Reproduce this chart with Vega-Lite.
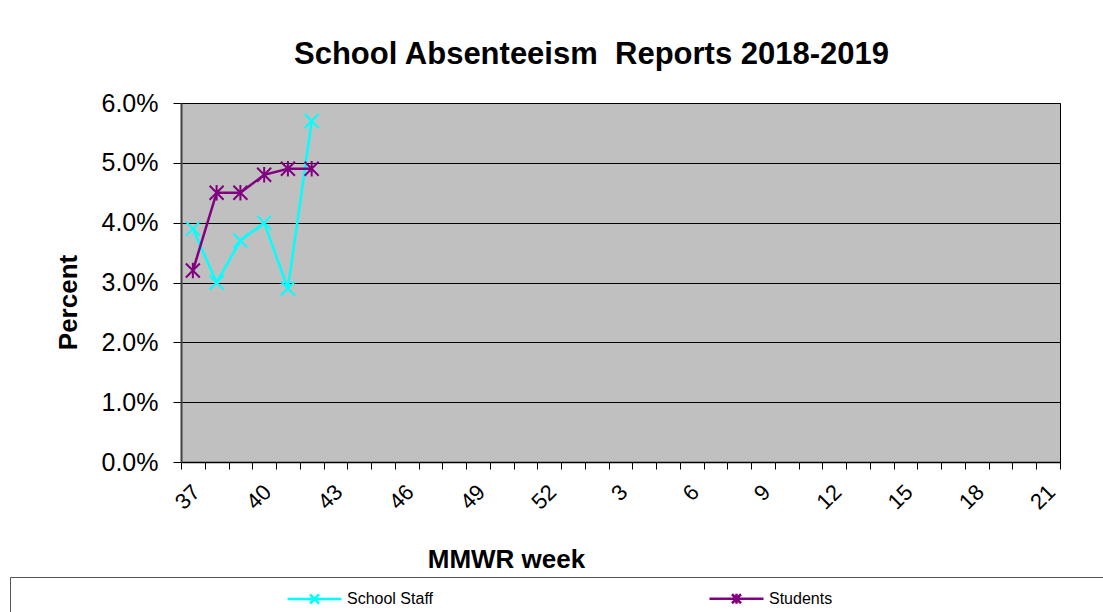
{
  "$schema": "https://vega.github.io/schema/vega-lite/v6.json",
  "width": 879,
  "height": 359,
  "autosize": {"type": "none"},
  "padding": {"left": 181, "top": 103, "right": 43, "bottom": 150},
  "background": "white",
  "title": {
    "text": "School Absenteeism\u00a0 Reports 2018-2019",
    "font": "Liberation Sans",
    "fontSize": 31,
    "fontWeight": "bold",
    "color": "black",
    "anchor": "middle",
    "dx": -29,
    "offset": 20
  },
  "data": {
    "values": [
      {"week": "37", "series": "School Staff", "percent": 0.039},
      {"week": "38", "series": "School Staff", "percent": 0.030},
      {"week": "39", "series": "School Staff", "percent": 0.037},
      {"week": "40", "series": "School Staff", "percent": 0.040},
      {"week": "41", "series": "School Staff", "percent": 0.029},
      {"week": "42", "series": "School Staff", "percent": 0.057},
      {"week": "37", "series": "Students", "percent": 0.032},
      {"week": "38", "series": "Students", "percent": 0.045},
      {"week": "39", "series": "Students", "percent": 0.045},
      {"week": "40", "series": "Students", "percent": 0.048},
      {"week": "41", "series": "Students", "percent": 0.049},
      {"week": "42", "series": "Students", "percent": 0.049}
    ]
  },
  "encoding": {
    "x": {
      "field": "week",
      "type": "ordinal",
      "scale": {
        "type": "band",
        "paddingInner": 0,
        "paddingOuter": 0,
        "domain": ["37","38","39","40","41","42","43","44","45","46","47","48","49","50","51","52","1","2","3","4","5","6","7","8","9","10","11","12","13","14","15","16","17","18","19","20","21"]
      },
      "axis": {
        "title": "MMWR week",
        "titleFont": "Liberation Sans",
        "titleFontSize": 26,
        "titleFontWeight": "bold",
        "titleColor": "black",
        "titleX": 325,
        "titleY": 97,
        "titleAlign": "center",
        "titleBaseline": "middle",
        "labelAngle": -45,
        "labelAlign": "right",
        "labelBaseline": "top",
        "labelFont": "Liberation Sans",
        "labelFontSize": 22,
        "labelColor": "black",
        "labelPadding": 12,
        "labelOffset": -4,
        "labelOverlap": false,
        "labelBound": false,
        "labelExpr": "indexof(['37','40','43','46','49','52','3','6','9','12','15','18','21'], datum.value) >= 0 ? datum.value : ''",
        "tickBand": "extent",
        "tickSize": 7,
        "tickColor": "black",
        "tickWidth": 1,
        "domainColor": "black",
        "domainWidth": 1.5,
        "grid": false
      }
    },
    "y": {
      "field": "percent",
      "type": "quantitative",
      "scale": {"domain": [0, 0.06], "nice": false},
      "axis": {
        "title": "Percent",
        "titleFont": "Liberation Sans",
        "titleFontSize": 26,
        "titleFontWeight": "bold",
        "titleColor": "black",
        "titleX": -113,
        "titleY": 199,
        "titleAngle": -90,
        "titleAlign": "center",
        "titleBaseline": "middle",
        "values": [0, 0.01, 0.02, 0.03, 0.04, 0.05, 0.06],
        "format": ".1%",
        "labelFont": "Liberation Sans",
        "labelFontSize": 25,
        "labelColor": "black",
        "labelPadding": 15,
        "tickSize": 8,
        "tickColor": "black",
        "domainColor": "#404040",
        "domainWidth": 2,
        "grid": true,
        "gridColor": "black",
        "gridWidth": 1,
        "gridOpacity": 1
      }
    },
    "color": {
      "field": "series",
      "type": "nominal",
      "scale": {"domain": ["School Staff", "Students"], "range": ["#00FFFF", "#800080"]},
      "legend": {
        "title": " ",
        "titleOrient": "right",
        "titlePadding": 270,
        "orient": "none",
        "legendX": -171,
        "legendY": 474,
        "direction": "horizontal",
        "columns": 2,
        "columnPadding": 9,
        "padding": 10,
        "strokeColor": "#555555",
        "labelFont": "Liberation Sans",
        "labelFontSize": 16,
        "labelColor": "black",
        "labelOffset": 21,
        "symbolOffset": 283,
        "symbolSize": 400,
        "symbolStrokeWidth": 2.5,
        "symbolFillColor": "transparent",
        "symbolType": "M-2.7,0L2.7,0M-0.45,-0.45L0.45,0.45M-0.45,0.45L0.45,-0.45",
        "encode": {
          "symbols": {
            "update": {
              "shape": {"signal": "datum.value === 'Students' ? 'M-2.7,0L2.7,0M-0.45,-0.45L0.45,0.45M-0.45,0.45L0.45,-0.45M0,-0.5L0,0.5' : 'M-2.7,0L2.7,0M-0.45,-0.45L0.45,0.45M-0.45,0.45L0.45,-0.45'"}
            }
          }
        }
      }
    }
  },
  "layer": [
    {"mark": {"type": "line", "strokeWidth": 2.5}},
    {
      "transform": [{"filter": "datum.series === 'School Staff'"}],
      "mark": {"type": "point", "filled": false, "strokeWidth": 2, "size": 196, "opacity": 1, "shape": "M-1,-1L1,1M-1,1L1,-1"}
    },
    {
      "transform": [{"filter": "datum.series === 'Students'"}],
      "mark": {"type": "point", "filled": false, "strokeWidth": 2, "size": 196, "opacity": 1, "shape": "M-1,-1L1,1M-1,1L1,-1M0,-1.1L0,1.1"}
    }
  ],
  "config": {
    "view": {"fill": "#C0C0C0", "stroke": "#000000", "strokeWidth": 1}
  }
}
